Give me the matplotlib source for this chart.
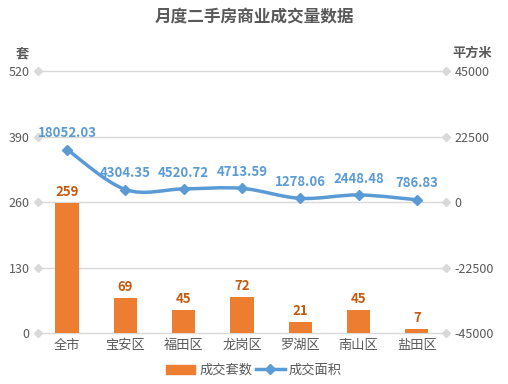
import numpy as np
import matplotlib.pyplot as plt
from matplotlib.path import Path
from matplotlib.patches import PathPatch
from matplotlib.lines import Line2D
from matplotlib.patches import Patch

plt.rcParams['font.family'] = ['Noto Sans CJK SC', 'DejaVu Sans']
plt.rcParams['axes.unicode_minus'] = False

# data
districts = ["全市", "宝安区", "福田区", "龙岗区", "罗湖区", "南山区", "盐田区"]
units = [259, 69, 45, 72, 21, 45, 7]
area = [18052.03, 4304.35, 4520.72, 4713.59, 1278.06, 2448.48, 786.83]
left_ticks = [0, 130, 260, 390, 520]
right_ticks = [-45000, -22500, 0, 22500, 45000]

bar_color = "#ED7D31"
line_color = "#5B9BD5"
grid_color = "#D9D9D9"
text_color = "#595959"

fig = plt.figure(figsize=(5.08, 3.84), dpi=100)
ax = fig.add_axes([0.0748, 0.1328, 0.803, 0.682])
ax2 = ax.twinx()

x = np.arange(len(districts))
ax.bar(x, units, width=0.4, color=bar_color, zorder=2)
ax.set_xlim(-0.5, len(districts) - 0.5)
ax.set_ylim(0, 520)
ax.set_yticks(left_ticks)
ax2.set_ylim(-45000, 45000)
ax2.set_yticks(right_ticks)

for a in (ax, ax2):
    for s in a.spines.values():
        s.set_visible(False)
    a.tick_params(length=0, labelsize=9, labelcolor=text_color)
ax.tick_params(axis='y', pad=6)
ax2.tick_params(axis='y', pad=6)
ax.tick_params(axis='x', pad=4, labelsize=9.5)
ax.set_xticks(x)
ax.set_xticklabels(districts)

# gridlines with diamond end markers
for t in left_ticks:
    ax.plot([-0.5, len(districts) - 0.5], [t, t], color=grid_color, lw=1,
            zorder=0, clip_on=False)
    ax.plot([-0.5, len(districts) - 0.5], [t, t], ls='none', marker='D',
            ms=4, color=grid_color, zorder=0, clip_on=False)

for xi, v in zip(x, units):
    ax.text(xi, v + 8, str(v), ha='center', va='bottom', fontsize=9.5,
            fontweight='bold', color="#C55A11")

# smooth line via Catmull-Rom style bezier segments
pts = np.column_stack([x, area])
verts = [pts[0]]
codes = [Path.MOVETO]
for i in range(len(pts) - 1):
    p0 = pts[i - 1] if i > 0 else pts[i]
    p1 = pts[i]
    p2 = pts[i + 1]
    p3 = pts[i + 2] if i + 2 < len(pts) else pts[i + 1]
    c1 = p1 + (p2 - p0) / 6
    c2 = p2 - (p3 - p1) / 6
    verts += [c1, c2, p2]
    codes += [Path.CURVE4] * 3
ax2.add_patch(PathPatch(Path(verts, codes), fill=False, edgecolor=line_color,
                        lw=2.5, zorder=3))
ax2.plot(x, area, ls='none', marker='D', ms=5, color=line_color, zorder=4)
for xi, v in zip(x, area):
    ax2.text(xi, v + 3200, f"{v:.2f}", ha='center', va='bottom', fontsize=9.5,
             fontweight='bold', color=line_color)

fig.text(0.5, 0.955, "月度二手房商业成交量数据", ha='center', va='center',
         fontsize=12, fontweight='bold', color=text_color)
fig.text(0.043, 0.862, "套", ha='center', va='center', fontsize=9.5,
         fontweight='bold', color=text_color)
fig.text(0.93, 0.862, "平方米", ha='center', va='center', fontsize=9.5,
         fontweight='bold', color=text_color)

handles = [Patch(color=bar_color),
           Line2D([0], [0], color=line_color, lw=2.5, marker='D', ms=5)]
fig.legend(handles, ["成交套数", "成交面积"], loc='center',
           bbox_to_anchor=(0.5, 0.035), ncol=2, frameon=False, fontsize=9.5,
           handlelength=2.2, columnspacing=0.3, handletextpad=0.3,
           labelcolor=text_color)

fig.savefig("out.png", dpi=100)
